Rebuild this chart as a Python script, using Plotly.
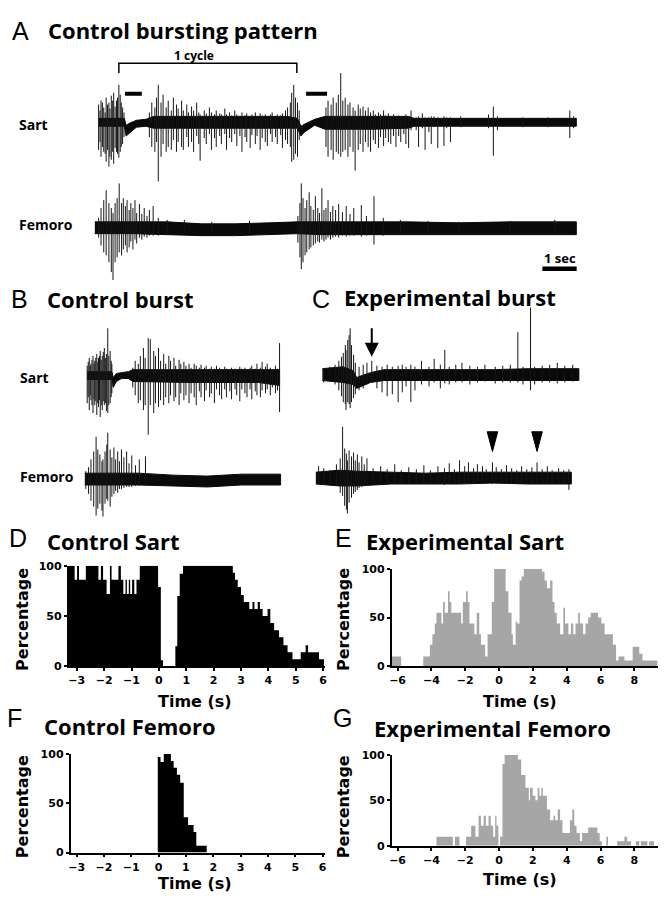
import plotly.graph_objects as go

W, H = 667, 901
SEC_PX = 34.5  # horizontal scale of the recordings: pixels per second

# ---------------- Panel A: control bursting pattern ----------------
# band = dense noise envelope (time s, upper, lower amplitude); spikes = (time s, top, bottom)
A_SART_BAND_T = [0.0, 0.75, 0.8, 0.9, 1.1, 1.38, 1.6, 3.0, 5.5, 5.8, 5.9, 6.0, 6.3, 6.6, 8.0, 9.04, 9.2, 11.0, 13.93]
A_SART_BAND_UP = [4, 4, -3, -1, 2, 3, 6, 6, 6, 4, -4, -2, 3, 6, 6, 6, 4, 4, 4]
A_SART_BAND_DN = [-4, -4, -14, -11, -5, -4, -6, -6, -6, -6, -14, -10, -3, -7, -7, -6, -4, -4, -4]
A_SART_SPIKES = [
    (0.00, 18, -28), (0.04, 12, -20), (0.07, 22, -35), (0.11, 20, -25), (0.15, 15, -30), (0.19, 10, -32),
    (0.22, 25, -40), (0.26, 18, -28), (0.30, 20, -45), (0.33, 14, -35), (0.37, 27, -38), (0.41, 22, -30),
    (0.44, 30, -42), (0.48, 16, -26), (0.52, 22, -30), (0.55, 25, -32), (0.59, 38, -36), (0.63, 28, -30),
    (0.66, 20, -25), (0.70, 15, -22), (0.74, 10, -15),
    (1.48, 10, -15), (1.55, 20, -25), (1.64, 15, -30), (1.69, 25, -20), (1.74, 38, -60), (1.82, 20, -35),
    (1.88, 28, -22), (1.97, 15, -30), (2.03, 22, -25), (2.12, 12, -28), (2.18, 25, -18), (2.27, 18, -30),
    (2.32, 14, -20), (2.42, 22, -25), (2.47, 12, -28), (2.57, 18, -15), (2.62, 10, -25), (2.71, 16, -20),
    (2.77, 12, -30), (2.86, 20, -14), (2.92, 10, -22), (2.96, 8, -39), (3.08, 12, -16), (3.14, 9, -22),
    (3.23, 15, -12), (3.29, 10, -28), (3.38, 8, -16), (3.43, 12, -25), (3.53, 9, -14), (3.58, 8, -22),
    (3.68, 14, -12), (3.73, 8, -28), (3.82, 10, -16), (3.88, 7, -20), (3.97, 12, -12), (4.03, 8, -24),
    (4.12, 6, -14), (4.18, 10, -30), (4.27, 7, -15), (4.32, 9, -20), (4.42, 6, -26), (4.47, 8, -13),
    (4.57, 10, -22), (4.62, 6, -14), (4.71, 9, -28), (4.77, 7, -16), (4.86, 8, -20), (4.92, 6, -24),
    (5.01, 8, -12), (5.06, 10, -20), (5.16, 6, -15), (5.21, 8, -22), (5.31, 7, -13), (5.36, 9, -26),
    (5.45, 12, -18), (5.51, 15, -22), (5.59, 20, -25), (5.63, 30, -40), (5.69, 38, -38), (5.74, 25, -32),
    (5.80, 20, -35), (5.85, 12, -18),
    (6.63, 15, -25), (6.69, 22, -35), (6.78, 18, -28), (6.84, 25, -38), (6.93, 20, -30), (6.99, 28, -32),
    (7.06, 50, -35), (7.12, 22, -30), (7.19, 25, -28), (7.27, 18, -35), (7.33, 20, -25), (7.42, 15, -30),
    (7.48, 12, -49), (7.57, 18, -28), (7.63, 14, -22), (7.71, 16, -30), (7.78, 12, -20), (7.86, 15, -25),
    (7.93, 10, -30), (8.01, 12, -18), (8.07, 8, -22), (8.16, 10, -26), (8.22, 8, -15), (8.31, 12, -24),
    (8.37, 7, -16), (8.45, 9, -20), (8.52, 6, -22), (8.60, 8, -14), (8.67, 6, -25), (8.75, 7, -14),
    (8.81, 5, -20), (8.90, 6, -12), (8.96, 8, -22), (9.04, 5, -26), (9.11, 12, -8), (9.26, 5, -8),
    (9.33, 6, -25), (9.44, 9, -6), (9.52, 5, -28), (9.63, 5, -10), (9.70, 6, -22), (9.78, 6, -5),
    (9.89, 5, -26), (10.07, 6, -24), (10.15, 5, -6), (10.26, 5, -20), (10.56, 6, -5), (11.37, 8, -6),
    (11.51, 16, -34), (11.63, 6, -8), (12.37, 5, -5), (13.11, 5, -5), (13.74, 12, -16), (13.85, 6, -6),
]
A_FEM_BAND_T = [-0.11, 1.0, 2.0, 3.0, 4.0, 5.0, 5.8, 6.5, 7.5, 9.0, 10.5, 12.0, 13.93]
A_FEM_BAND_UP = [6, 6, 6, 4, 4, 5, 6, 6, 6, 6, 5, 6, 6]
A_FEM_BAND_DN = [-6, -6, -7, -8, -8, -7, -6, -7, -7, -7, -7, -7, -7]
A_FEM_SPIKES = [
    (0.00, 10, -10), (0.07, 20, -18), (0.15, 28, -25), (0.22, 38, -28), (0.30, 25, -35), (0.37, 20, -45),
    (0.42, 15, -53), (0.48, 25, -35), (0.54, 30, -30), (0.60, 45, -25), (0.67, 25, -28), (0.72, 30, -22),
    (0.78, 22, -18), (0.83, 28, -25), (0.89, 18, -20), (0.94, 25, -14), (1.00, 20, -22), (1.06, 28, -12),
    (1.11, 15, -16), (1.19, 24, -10), (1.26, 14, -12), (1.33, 20, -9), (1.41, 12, -10), (1.48, 18, -8),
    (1.59, 22, -8), (1.74, 10, -8), (2.00, 8, -7), (2.50, 8, -6), (3.30, 6, -6), (4.40, 7, -6),
    (5.81, 12, -15), (5.87, 25, -30), (5.91, 45, -42), (5.96, 30, -35), (6.02, 20, -28), (6.07, 28, -25),
    (6.14, 36, -22), (6.19, 22, -20), (6.26, 18, -18), (6.32, 32, -16), (6.39, 20, -14), (6.44, 15, -15),
    (6.51, 40, -12), (6.57, 18, -14), (6.63, 20, -12), (6.69, 28, -10), (6.76, 16, -12), (6.83, 22, -10),
    (6.91, 18, -9), (7.00, 24, -10), (7.11, 16, -8), (7.22, 22, -9), (7.33, 14, -8), (7.44, 20, -8),
    (7.66, 23, -9), (7.81, 12, -8), (8.03, 32, -17), (8.30, 10, -8), (8.80, 8, -7), (9.60, 7, -6),
    (10.50, 6, -6), (12.00, 7, -6), (13.30, 8, -6),
]
CYCLE_START, CYCLE_END = 0.59, 5.78          # "1 cycle" bracket (s)
SILENT_START = [0.77, 6.05]                   # black bars over silent periods (s)
SILENT_END = [1.26, 6.66]
SCALE_BAR_START, SCALE_BAR_LEN = 12.94, 1.0   # "1 sec"

# ---------------- Panel B: control burst ----------------
B_SART_BAND_T = [0.0, 0.72, 0.76, 0.85, 1.0, 1.2, 1.33, 3.0, 5.0, 5.61]
B_SART_BAND_UP = [4, 4, -2, 2, 3, 4, 6, 6, 6, 6]
B_SART_BAND_DN = [-4, -4, -12, -6, -3, -3, -6, -7, -7, -10]
B_SART_SPIKES = [
    (0.00, 10, -28), (0.03, 14, -22), (0.06, 18, -35), (0.09, 10, -20), (0.11, 12, -25), (0.14, 16, -30),
    (0.17, 20, -38), (0.20, 12, -24), (0.22, 15, -30), (0.25, 18, -26), (0.28, 22, -40), (0.31, 14, -28),
    (0.33, 18, -32), (0.36, 20, -25), (0.38, 25, -42), (0.41, 16, -30), (0.44, 20, -35), (0.47, 24, -26),
    (0.50, 28, -30), (0.53, 18, -28), (0.56, 22, -36), (0.60, 48, -38), (0.63, 20, -30), (0.67, 25, -28),
    (0.70, 15, -22), (0.72, 12, -18),
    (1.33, 8, -12), (1.40, 15, -20), (1.49, 12, -28), (1.55, 20, -25), (1.64, 28, -35), (1.69, 18, -30),
    (1.78, 38, -60), (1.84, 37, -30), (1.94, 25, -38), (1.99, 20, -28), (2.08, 28, -32), (2.14, 15, -25),
    (2.23, 22, -30), (2.29, 12, -22), (2.38, 20, -28), (2.43, 15, -20), (2.53, 18, -26), (2.58, 10, -22),
    (2.68, 16, -30), (2.73, 12, -18), (2.82, 14, -25), (2.88, 10, -20), (2.97, 12, -28), (3.03, 8, -18),
    (3.12, 12, -22), (3.18, 10, -30), (3.27, 8, -16), (3.32, 11, -22), (3.42, 8, -26), (3.47, 10, -15),
    (3.57, 7, -22), (3.62, 9, -18), (3.71, 7, -28), (3.77, 10, -14), (3.86, 8, -20), (3.92, 6, -24),
    (4.01, 9, -14), (4.06, 7, -22), (4.16, 6, -16), (4.21, 8, -24), (4.31, 7, -14), (4.36, 6, -20),
    (4.45, 9, -26), (4.51, 7, -14), (4.60, 8, -18), (4.66, 6, -22), (4.75, 8, -14), (4.80, 10, -24),
    (4.90, 7, -16), (4.95, 12, -20), (5.05, 8, -22), (5.10, 14, -15), (5.20, 9, -18), (5.25, 12, -14),
    (5.34, 8, -20), (5.40, 6, -12), (5.49, 10, -18), (5.55, 7, -15), (5.61, 33, -37),
]
B_FEM_BAND_T = [-0.07, 1.5, 2.5, 3.5, 4.5, 5.64]
B_FEM_BAND_UP = [6, 6, 4, 3, 5, 5]
B_FEM_BAND_DN = [-6, -6, -7, -8, -6, -6]
B_FEM_SPIKES = [
    (-0.04, 8, -10), (0.04, 12, -15), (0.11, 20, -22), (0.19, 28, -28), (0.26, 43, -37), (0.31, 30, -30),
    (0.37, 25, -25), (0.43, 18, -32), (0.46, 20, -38), (0.52, 28, -25), (0.57, 35, -20), (0.60, 47, -22),
    (0.67, 30, -28), (0.72, 22, -18), (0.78, 32, -15), (0.83, 20, -12), (0.89, 28, -14), (0.94, 18, -10),
    (1.00, 30, -10), (1.07, 22, -9), (1.15, 28, -8), (1.22, 16, -8), (1.30, 24, -8), (1.41, 14, -7),
    (1.52, 20, -7), (1.70, 23, -7),
]

# ---------------- Panel C: experimental burst ----------------
C_SART_BAND_T = [0.0, 0.6, 0.9, 1.0, 1.15, 1.4, 1.8, 3.0, 5.0, 6.0, 7.48]
C_SART_BAND_UP = [6, 8, 4, -3, -1, 2, 5, 5, 5, 6, 6]
C_SART_BAND_DN = [-6, -8, -10, -14, -12, -8, -6, -6, -6, -6, -6]
C_SART_SPIKES = [
    (0.04, 6, -8), (0.22, 8, -7), (0.37, 10, -10), (0.48, 14, -16), (0.56, 18, -22), (0.61, 22, -28),
    (0.67, 30, -30), (0.69, 25, -36), (0.74, 35, -28), (0.78, 40, -30), (0.81, 47, -34), (0.85, 30, -28),
    (0.91, 20, -24), (0.96, 12, -20), (1.07, 8, -16), (1.19, 10, -14), (1.30, 12, -10), (1.44, 14, -8),
    (1.59, 9, -14), (1.74, 8, -18), (1.89, 10, -22), (2.04, 8, -20), (2.21, 9, -28), (2.33, 10, -18),
    (2.44, 8, -12), (2.58, 10, -28), (2.70, 8, -16), (2.89, 14, -10), (3.11, 8, -12), (3.26, 16, -8),
    (3.44, 10, -14), (3.57, 25, -9), (3.70, 8, -10), (3.89, 10, -8), (4.07, 12, -8), (4.30, 9, -10),
    (4.52, 8, -8), (4.74, 10, -7), (5.04, 8, -9), (5.26, 9, -8), (5.48, 10, -8), (5.70, 43, -8),
    (5.85, 8, -10), (6.07, 68, -16), (6.19, 8, -10), (6.41, 9, -8), (6.63, 10, -8), (6.85, 12, -9),
    (7.07, 9, -8), (7.30, 10, -7),
]
C_SART_ARROW_T = 1.44                      # arrow marking the silent period
C_FEM_BAND_T = [-0.19, 0.5, 1.0, 2.0, 3.0, 4.0, 5.0, 6.0, 7.26]
C_FEM_BAND_UP = [6, 8, 7, 6, 5, 6, 6, 6, 6]
C_FEM_BAND_DN = [-6, -8, -8, -6, -6, -6, -5, -6, -6]
C_FEM_SPIKES = [
    (-0.11, 12, -6), (0.04, 10, -6), (0.22, 8, -7), (0.41, 14, -8), (0.52, 20, -15), (0.59, 52, -18),
    (0.65, 30, -28), (0.70, 25, -32), (0.73, 18, -36), (0.78, 28, -25), (0.85, 22, -20), (0.91, 26, -16),
    (0.96, 18, -14), (1.02, 24, -12), (1.07, 16, -10), (1.15, 22, -9), (1.22, 14, -8), (1.30, 20, -8),
    (1.48, 10, -6), (1.70, 12, -6), (1.89, 9, -7), (2.11, 14, -6), (2.30, 8, -6), (2.52, 11, -6),
    (2.74, 9, -6), (2.96, 13, -6), (3.15, 8, -6), (3.37, 12, -6), (3.56, 10, -7), (3.70, 15, -6),
    (3.85, 9, -6), (4.00, 18, -6), (4.15, 12, -6), (4.26, 16, -6), (4.41, 10, -6), (4.52, 14, -6),
    (4.67, 12, -6), (4.78, 9, -6), (4.96, 16, -6), (5.07, 11, -6), (5.22, 9, -6), (5.37, 13, -6),
    (5.52, 10, -6), (5.67, 8, -6), (5.81, 12, -6), (5.96, 9, -6), (6.11, 11, -6), (6.26, 16, -6),
    (6.41, 9, -6), (6.56, 12, -6), (6.70, 8, -6), (6.89, 10, -6), (7.04, 8, -6), (7.19, 9, -12),
]
C_FEM_ARROWHEAD_T = [4.96, 6.26]

# ---------------- Histograms (bin edges in s, percentage per segment) ----------------
D_EDGES = [-3.30, -3.08, -2.99, -2.92, -2.67, -2.21, -2.12, -2.04, -1.91, -1.79, -1.73, -1.48, -1.39, -1.30,
           -1.22, -1.17, -1.10, -1.05, -0.98, -0.90, -0.82, -0.70, -0.03, 0.07, 0.15, 0.60, 0.67, 0.76, 0.88,
           2.70, 2.78, 2.88, 3.00, 3.10, 3.30, 3.42, 3.49, 3.61, 3.69, 3.79, 3.97, 4.07, 4.21, 4.39, 4.55,
           4.70, 4.88, 5.00, 5.18, 5.36, 5.45, 5.85, 6.03]
D_VALUES = [100, 86, 100, 86, 100, 86, 100, 86, 72, 100, 86, 100, 86, 72, 86, 72, 86, 72, 86, 72, 86, 100,
            79, 6, 0, 20, 70, 92, 100, 93, 86, 79, 71, 64, 57, 64, 57, 64, 57, 50, 57, 43, 36, 29, 21, 14, 7,
            7, 14, 21, 14, 7]

E_EDGES = [-6.33, -5.79, -4.48, -4.09, -3.94, -3.80, -3.70, -3.41, -3.31, -3.21, -3.02, -2.92, -2.82, -2.24,
           -2.14, -1.95, -1.85, -1.75, -1.46, -1.32, -1.17, -1.07, -0.82, -0.68, -0.43, -0.29, 0.39, 0.55,
           0.74, 0.82, 0.98, 1.07, 1.21, 1.33, 1.46, 2.54, 2.69, 2.83, 3.02, 3.16, 3.28, 3.41, 3.61, 3.80,
           3.90, 4.10, 4.25, 4.39, 4.52, 4.68, 4.78, 4.97, 5.11, 5.27, 5.42, 5.85, 6.05, 6.24, 6.73, 6.92,
           7.06, 7.41, 7.90, 8.29, 8.48, 9.36]
E_VALUES = [10, 0, 10, 22, 33, 44, 55, 44, 66, 55, 77, 66, 55, 44, 66, 77, 66, 44, 33, 55, 33, 22, 10, 33,
            66, 100, 77, 55, 33, 22, 46, 44, 88, 92, 100, 97, 88, 80, 88, 66, 55, 44, 33, 60, 44, 33, 44, 33,
            44, 55, 44, 33, 44, 50, 55, 50, 44, 33, 22, 6, 10, 6, 20, 13, 6]

F_EDGES = [-0.03, 0.07, 0.19, 0.45, 0.55, 0.67, 0.79, 0.92, 1.08, 1.28, 1.38, 1.76]
F_VALUES = [97, 92, 100, 93, 86, 79, 71, 36, 28, 21, 7]

G_EDGES = [-3.70, -2.73, -2.61, -2.34, -1.95, -1.65, -1.40, -1.21, -1.07, -0.91, -0.78, -0.62, -0.49, -0.35,
           -0.23, -0.15, -0.04, 0.06, 0.20, 0.33, 1.11, 1.31, 1.56, 1.76, 1.83, 1.99, 2.15, 2.28, 2.38, 2.50,
           2.59, 2.83, 3.02, 3.22, 3.32, 3.47, 3.61, 3.75, 4.19, 4.33, 4.45, 4.58, 4.78, 4.91, 5.27, 5.81,
           5.95, 6.08, 6.34, 6.44, 6.98, 7.41, 7.57, 7.80, 8.09, 8.29, 8.38, 8.77, 8.87, 9.16]
G_VALUES = [10, 0, 10, 0, 10, 22, 10, 33, 22, 33, 22, 33, 22, 10, 33, 22, 0, 10, 90, 100, 95, 78, 64, 50, 64,
            55, 50, 64, 55, 64, 55, 40, 28, 33, 28, 40, 28, 14, 28, 40, 22, 14, 5, 14, 20, 14, 5, 0, 10, 0,
            5, 10, 5, 0, 5, 0, 5, 0, 5]

CONTROL_TICKS = [-3, -2, -1, 0, 1, 2, 3, 4, 5, 6]
EXP_TICKS = [-6, -4, -2, 0, 2, 4, 6, 8]
Y_TICKS = [0, 50, 100]

# ================= figure =================
fig = go.Figure()
axes = {}
count = [0]


def new_axes(x0, x1, y0, y1, xr, yr):
    count[0] += 1
    s = '' if count[0] == 1 else str(count[0])
    axes['xaxis' + s] = dict(domain=[x0 / W, x1 / W], range=xr, anchor='y' + s, visible=False, fixedrange=True)
    axes['yaxis' + s] = dict(domain=[1 - y1 / H, 1 - y0 / H], range=yr, anchor='x' + s, visible=False,
                             fixedrange=True)
    return 'x' + s, 'y' + s, s


def rec_axes(x0, x1, y0, y1, ox, base):
    return new_axes(x0, x1, y0, y1, [(x0 - ox) / SEC_PX, (x1 - ox) / SEC_PX], [base - y1, base - y0])


def draw_rec(ax, bt, bu, bd, spikes):
    xa, ya, _ = ax
    fig.add_trace(go.Scatter(x=list(bt) + list(bt)[::-1], y=list(bu) + list(bd)[::-1], mode='lines',
                             fill='toself', fillcolor='#0a0a0a', line=dict(color='#0a0a0a', width=1),
                             xaxis=xa, yaxis=ya, hoverinfo='skip', showlegend=False))
    sx, sy = [], []
    for t, u, d in spikes:
        sx += [t, t, None]
        sy += [u, d, None]
    fig.add_trace(go.Scatter(x=sx, y=sy, mode='lines', line=dict(color='#161616', width=1),
                             xaxis=xa, yaxis=ya, hoverinfo='skip', showlegend=False))


A_S = rec_axes(88, 592, 38, 190, 97.2, 118)
A_F = rec_axes(88, 592, 175, 292, 97.2, 225)
B_S = rec_axes(78, 292, 310, 445, 85.7, 375)
B_F = rec_axes(78, 292, 420, 525, 85.7, 480)
C_S = rec_axes(305, 592, 295, 420, 322.3, 374)
C_F = rec_axes(305, 592, 420, 525, 322.3, 479)

draw_rec(A_S, A_SART_BAND_T, A_SART_BAND_UP, A_SART_BAND_DN, A_SART_SPIKES)
draw_rec(A_F, A_FEM_BAND_T, A_FEM_BAND_UP, A_FEM_BAND_DN, A_FEM_SPIKES)
draw_rec(B_S, B_SART_BAND_T, B_SART_BAND_UP, B_SART_BAND_DN, B_SART_SPIKES)
draw_rec(B_F, B_FEM_BAND_T, B_FEM_BAND_UP, B_FEM_BAND_DN, B_FEM_SPIKES)
draw_rec(C_S, C_SART_BAND_T, C_SART_BAND_UP, C_SART_BAND_DN, C_SART_SPIKES)
draw_rec(C_F, C_FEM_BAND_T, C_FEM_BAND_UP, C_FEM_BAND_DN, C_FEM_SPIKES)

# 1 cycle bracket
fig.add_trace(go.Scatter(x=[CYCLE_START, CYCLE_START, CYCLE_END, CYCLE_END], y=[50, 60, 60, 50], mode='lines',
                         line=dict(color='black', width=1.5), xaxis=A_S[0], yaxis=A_S[1], hoverinfo='skip',
                         showlegend=False))
for s0, s1 in zip(SILENT_START, SILENT_END):
    fig.add_trace(go.Scatter(x=[s0, s1], y=[29, 29], mode='lines', line=dict(color='black', width=4),
                             xaxis=A_S[0], yaxis=A_S[1], hoverinfo='skip', showlegend=False))
# 1 sec scale bar
fig.add_trace(go.Scatter(x=[SCALE_BAR_START, SCALE_BAR_START + SCALE_BAR_LEN], y=[-41.5, -41.5], mode='lines',
                         line=dict(color='black', width=4.5), xaxis=A_F[0], yaxis=A_F[1], hoverinfo='skip',
                         showlegend=False))
fig.add_annotation(x=SCALE_BAR_START + SCALE_BAR_LEN / 2, y=-31, xref=A_F[0], yref=A_F[1], text='1 sec',
                   showarrow=False, font=dict(family='Open Sans', size=13, color='black', weight='bold'))

# arrow (C Sart) and arrowheads (C Femoro)
fig.add_annotation(x=C_SART_ARROW_T, y=18, xref=C_S[0], yref=C_S[1], ax=0, ay=-30, showarrow=True,
                   arrowhead=2, arrowsize=1.4, arrowwidth=2, arrowcolor='black', text='')
hw = 5.3 / SEC_PX
for t in C_FEM_ARROWHEAD_T:
    fig.add_trace(go.Scatter(x=[t - hw, t + hw, t, t - hw], y=[47, 47, 27, 47], mode='lines', fill='toself',
                             fillcolor='black', line=dict(color='black', width=1), xaxis=C_F[0], yaxis=C_F[1],
                             hoverinfo='skip', showlegend=False))

# ---------- histograms ----------
AXSTYLE = dict(visible=True, showline=True, linecolor='black', linewidth=1.6, ticks='outside', ticklen=3,
               tickwidth=1.6, tickcolor='black', showgrid=False, zeroline=False,
               tickfont=dict(family='DejaVu Sans', size=11, color='black', weight='bold'))


def hist(x0, x1, y0, y1, xr, edges, vals, color, ticks):
    xa, ya, s = new_axes(x0, x1, y0, y1, xr, [0, 100])
    axes['xaxis' + s].update(AXSTYLE, tickvals=ticks)
    axes['yaxis' + s].update(AXSTYLE, tickvals=Y_TICKS)
    fig.add_trace(go.Scatter(x=edges, y=list(vals) + [vals[-1]], mode='lines',
                             line=dict(width=0, shape='hv', color=color), fill='tozeroy', fillcolor=color,
                             xaxis=xa, yaxis=ya, hoverinfo='skip', showlegend=False))


hist(67, 325, 568, 670, [-3.3, 6.07], D_EDGES, D_VALUES, 'black', CONTROL_TICKS)
hist(392, 660, 571, 670, [-6.35, 9.4], E_EDGES, E_VALUES, '#a6a6a6', EXP_TICKS)
hist(69, 325, 759, 859, [-3.22, 6.09], F_EDGES, F_VALUES, 'black', CONTROL_TICKS)
hist(392, 660, 760, 852, [-6.35, 9.4], G_EDGES, G_VALUES, '#a6a6a6', EXP_TICKS)


def label(x, y, s, size, bold=True, xanchor='left', family='Open Sans', angle=0):
    fig.add_annotation(x=x / W, y=1 - y / H, xref='paper', yref='paper', text=s, showarrow=False,
                       xanchor=xanchor, yanchor='middle', textangle=angle, borderpad=0,
                       font=dict(family=family, size=size, color='black', weight='bold' if bold else 'normal'))


for ch, x, y in [('A', 9, 25), ('B', 8, 297), ('C', 311, 297), ('D', 6, 540), ('E', 334, 540),
                 ('F', 4, 722), ('G', 332, 722)]:
    label(x, y, ch, 25, bold=False, family='Liberation Sans')
for s, x, y in [('Control bursting pattern', 45, 24), ('Control burst', 44, 297), ('Experimental burst', 343, 295),
                ('Control Sart', 44, 543), ('Experimental Sart', 365, 543), ('Control Femoro', 41, 731),
                ('Experimental Femoro', 373, 733)]:
    label(x, y, s, 22)
label(193, 50, '1 cycle', 12, xanchor='center')
for s, x, y in [('Sart', 16, 120), ('Femoro', 16, 222), ('Sart', 17, 377), ('Femoro', 17, 477)]:
    label(x, y, s, 14)
for x, y in [(20, 622), (343, 622), (20, 812), (343, 812)]:
    label(x, y, 'Percentage', 16, xanchor='center', family='DejaVu Sans', angle=-90)
for x, y in [(194, 706), (521, 706), (194, 890), (521, 886)]:
    label(x, y, 'Time (s)', 16, xanchor='center', family='DejaVu Sans')

fig.update_layout(width=W, height=H, autosize=False, margin=dict(l=0, r=0, t=0, b=0),
                  paper_bgcolor='white', plot_bgcolor='rgba(0,0,0,0)', showlegend=False, **axes)
fig.write_html('out.html', config={'displayModeBar': False},
               post_script="document.body.style.margin='0px';document.body.style.padding='0px';")
